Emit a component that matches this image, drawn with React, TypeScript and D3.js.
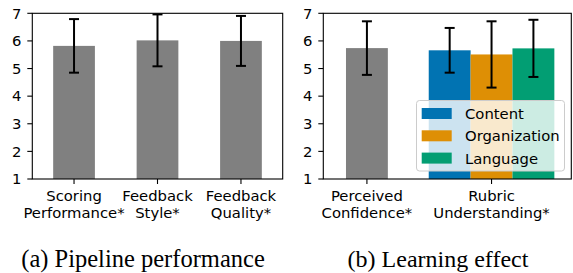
import React from "react";
import * as d3 from "d3";

// Panel (a): pipeline performance
const panelACategories: string[][] = [
  ["Scoring", "Performance*"],
  ["Feedback", "Style*"],
  ["Feedback", "Quality*"],
];
const panelAMeans = [5.82, 6.02, 6.0];
const panelAErrors = [0.97, 0.94, 0.905];

// Panel (b): learning effect
const panelBCategories: string[][] = [
  ["Perceived", "Confidence*"],
  ["Rubric", "Understanding*"],
];
const perceivedMean = [5.74];
const perceivedError = [0.97];
const rubricSeries = ["Content", "Organization", "Language"];
const rubricMeans = [5.66, 5.51, 5.73];
const rubricErrors = [0.81, 1.2, 1.035];
const rubricColors = ["#0173b2", "#de8f05", "#029e73"];

const yTicks = [1, 2, 3, 4, 5, 6, 7];
const captions = ["(a) Pipeline performance", "(b) Learning effect"];

const W = 573;
const H = 273;
const FONT = "DejaVu Sans, sans-serif";
const FS = 14.8;
const GRAY = "#808080";

const y = d3.scaleLinear().domain([1, 7]).range([179, 13.3]);

function ErrorBar({ x, mean, err }: { x: number; mean: number; err: number }) {
  const y1 = y(mean + err);
  const y2 = y(mean - err);
  return (
    <g stroke="#000" strokeWidth={2}>
      <line x1={x} x2={x} y1={y1} y2={y2} />
      <line x1={x - 5} x2={x + 5} y1={y1} y2={y1} />
      <line x1={x - 5} x2={x + 5} y1={y2} y2={y2} />
    </g>
  );
}

function Axes({
  x0,
  x1,
  ticks,
}: {
  x0: number;
  x1: number;
  ticks: { x: number; lines: string[] }[];
}) {
  const [yb, yt] = y.range();
  return (
    <g>
      {yTicks.map((t) => (
        <g key={t}>
          <line x1={x0 - 5} x2={x0} y1={y(t)} y2={y(t)} stroke="#000" strokeWidth={1.1} />
          <text
            x={x0 - 11}
            y={y(t)}
            dy="0.36em"
            textAnchor="end"
            fontFamily={FONT}
            fontSize={FS}
            fill="#000"
          >
            {t}
          </text>
        </g>
      ))}
      {ticks.map((t, i) => (
        <g key={i}>
          <line x1={t.x} x2={t.x} y1={yb} y2={yb + 5} stroke="#000" strokeWidth={1.1} />
          {t.lines.map((ln, j) => (
            <text
              key={j}
              x={t.x}
              y={201.3 + j * 16.6}
              textAnchor="middle"
              fontFamily={FONT}
              fontSize={FS}
              fill="#000"
            >
              {ln}
            </text>
          ))}
        </g>
      ))}
      <rect
        x={x0}
        y={yt}
        width={x1 - x0}
        height={yb - yt}
        fill="none"
        stroke="#000"
        strokeWidth={1.1}
      />
    </g>
  );
}

export default function App() {
  // Panel a
  const xa = d3.scaleLinear().domain([-0.5, 2.5]).range([32.3, 282.7]);
  const barWA = xa(0.5) - xa(0);
  // Panel b
  const xb = d3.scaleLinear().domain([-0.35, 1.64]).range([323.3, 571.3]);
  const bw = 0.336;
  const barWB = xb(bw) - xb(0);
  const [yb] = y.range();

  const legendX = 416.5;
  const legendY = 100.5;
  const legendW = 148;
  const legendH = 70.5;

  return (
    <div style={{ position: "absolute", left: 0, top: 0 }}>
      <svg width={W} height={H} xmlns="http://www.w3.org/2000/svg" style={{ display: "block" }}>
        <rect width={W} height={H} fill="#fff" />
        {/* Panel a */}
        {panelAMeans.map((m, i) => (
          <rect
            key={i}
            x={xa(i) - barWA / 2}
            y={y(m)}
            width={barWA}
            height={yb - y(m)}
            fill={GRAY}
          />
        ))}
        {panelAMeans.map((m, i) => (
          <ErrorBar key={i} x={xa(i)} mean={m} err={panelAErrors[i]} />
        ))}
        <Axes
          x0={32.3}
          x1={282.7}
          ticks={panelACategories.map((c, i) => ({ x: xa(i), lines: c }))}
        />

        {/* Panel b */}
        <rect
          x={xb(0) - barWB / 2}
          y={y(perceivedMean[0])}
          width={barWB}
          height={yb - y(perceivedMean[0])}
          fill={GRAY}
        />
        {rubricMeans.map((m, i) => {
          const cx = xb(1 + (i - 1) * bw);
          return (
            <rect
              key={i}
              x={cx - barWB / 2}
              y={y(m)}
              width={barWB}
              height={yb - y(m)}
              fill={rubricColors[i]}
            />
          );
        })}
        <ErrorBar x={xb(0)} mean={perceivedMean[0]} err={perceivedError[0]} />
        {rubricMeans.map((m, i) => (
          <ErrorBar key={i} x={xb(1 + (i - 1) * bw)} mean={m} err={rubricErrors[i]} />
        ))}
        {/* Legend */}
        <rect
          x={legendX}
          y={legendY}
          width={legendW}
          height={legendH}
          rx={3}
          fill="#fff"
          fillOpacity={0.8}
          stroke="#cccccc"
          strokeWidth={1}
        />
        {rubricSeries.map((s, i) => (
          <g key={s}>
            <rect x={421.7} y={108 + i * 22.3} width={30} height={11} fill={rubricColors[i]} />
            <text
              x={465}
              y={119 + i * 22.3}
              fontFamily={FONT}
              fontSize={FS}
              fill="#000"
            >
              {s}
            </text>
          </g>
        ))}
        <Axes
          x0={323.3}
          x1={571.3}
          ticks={panelBCategories.map((c, i) => ({ x: xb(i), lines: c }))}
        />

        {/* Captions */}
        <text
          x={143}
          y={266.5}
          textAnchor="middle"
          fontFamily="Liberation Serif, Times New Roman, serif"
          fontSize={24.5}
          fill="#000"
        >
          {captions[0]}
        </text>
        <text
          x={438}
          y={266.5}
          textAnchor="middle"
          fontFamily="Liberation Serif, Times New Roman, serif"
          fontSize={24}
          fill="#000"
        >
          {captions[1]}
        </text>
      </svg>
    </div>
  );
}
